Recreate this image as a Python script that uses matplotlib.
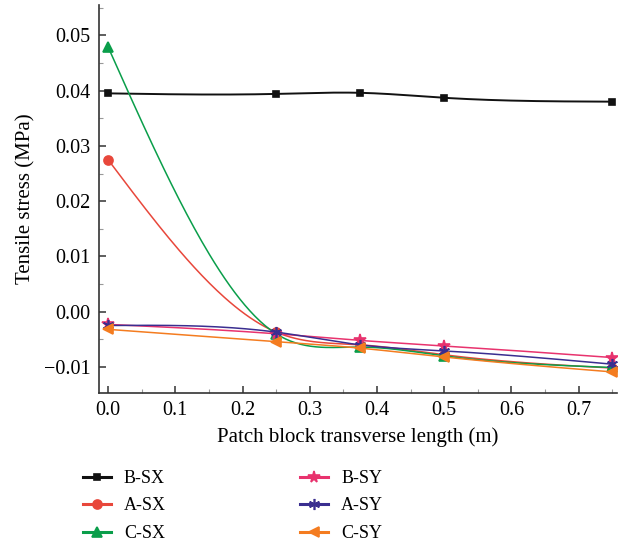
import numpy as np
import matplotlib
matplotlib.use("Agg")
import matplotlib.pyplot as plt
from matplotlib.ticker import MultipleLocator

plt.rcParams['font.family'] = ['Liberation Serif', 'DejaVu Serif']

x = [0.0, 0.25, 0.375, 0.5, 0.75]
b_sx = [0.0395, 0.0394, 0.0396, 0.0387, 0.0380]
a_sx = [0.0275, -0.0037, -0.0060, -0.0078, -0.0102]
c_sx = [0.0479, -0.0040, -0.0064, -0.0080, -0.0101]
b_sy = [-0.0023, -0.0040, -0.0052, -0.0062, -0.0083]
a_sy = [-0.0025, -0.0037, -0.0060, -0.0071, -0.0095]
c_sy = [-0.0032, -0.0054, -0.0066, -0.0082, -0.0109]


def spline(xs, ys, n=200):
    # natural cubic spline, only used to draw the smooth line between points
    xs = np.asarray(xs, float)
    ys = np.asarray(ys, float)
    k = len(xs)
    h = np.diff(xs)
    A = np.zeros((k, k))
    r = np.zeros(k)
    A[0, 0] = A[-1, -1] = 1
    for i in range(1, k - 1):
        A[i, i - 1] = h[i - 1]
        A[i, i] = 2 * (h[i - 1] + h[i])
        A[i, i + 1] = h[i]
        r[i] = 3 * ((ys[i + 1] - ys[i]) / h[i] - (ys[i] - ys[i - 1]) / h[i - 1])
    c = np.linalg.solve(A, r)
    xx = np.linspace(xs[0], xs[-1], n)
    idx = np.clip(np.searchsorted(xs, xx) - 1, 0, k - 2)
    dx = xx - xs[idx]
    b = (ys[1:] - ys[:-1]) / h - h * (2 * c[:-1] + c[1:]) / 3
    d = (c[1:] - c[:-1]) / (3 * h)
    yy = ys[idx] + b[idx] * dx + c[idx] * dx ** 2 + d[idx] * dx ** 3
    return xx, yy


series = [
    ("B-SX", b_sx, "#111111", "s", 5),
    ("A-SX", a_sx, "#e8473b", "o", 6.5),
    ("C-SX", c_sx, "#0a9e4a", "^", 7),
    ("B-SY", b_sy, "#e8336e", "*", 8.5),
    ("A-SY", a_sy, "#3a2e90", (6, 2, 0), 8),
    ("C-SY", c_sy, "#f47c20", "<", 6.5),
]

fig = plt.figure(figsize=(6.27, 5.48), dpi=100)
ax = fig.add_axes([0.158, 0.283, 0.826, 0.708])

handles = []
for name, ys, col, mk, ms in series:
    xx, yy = spline(x, ys)
    ax.plot(xx, yy, color=col, lw=1.1 if name != "B-SX" else 1.4)
    ax.plot(x, ys, ls='none', marker=mk, color=col, ms=ms, mew=1.2)
    h, = ax.plot([], [], color=col, lw=2.2, marker=mk, ms=ms, mew=1.2, label=name)
    handles.append(h)

ax.set_xlim(-0.0134, 0.757)
ax.set_ylim(-0.0147, 0.0555)
ax.xaxis.set_minor_locator(MultipleLocator(0.05))
ax.yaxis.set_minor_locator(MultipleLocator(0.005))
ax.set_xticks([0.0, 0.1, 0.2, 0.3, 0.4, 0.5, 0.6, 0.7])
ax.set_xticklabels(["0.0", "0.1", "0.2", "0.3", "0.4", "0.5", "0.6", "0.7"])
ax.set_yticks([-0.01, 0.0, 0.01, 0.02, 0.03, 0.04, 0.05])
ax.set_yticklabels(["\u22120.01", "0.00", "0.01", "0.02", "0.03", "0.04", "0.05"])

for s in ["top", "right"]:
    ax.spines[s].set_visible(False)
for s in ["left", "bottom"]:
    ax.spines[s].set_color("#333333")
    ax.spines[s].set_linewidth(1.2)
ax.tick_params(which='both', direction='in', labelsize=14.5, color="#333333", pad=6)
ax.tick_params(which='major', length=5, width=1.1)
ax.tick_params(which='minor', length=3, width=0.8, color="#999999")

ax.set_xlabel("Patch block transverse length (m)", fontsize=15, labelpad=5)
ax.set_ylabel("Tensile stress (MPa)", fontsize=15, labelpad=6)

fig.legend(handles, [s[0] for s in series],
           ncol=2, loc='upper left', bbox_to_anchor=(0.107, 0.172),
           frameon=False, fontsize=13, handlelength=1.55,
           columnspacing=7.45, labelspacing=0.58, handletextpad=0.7)

fig.savefig("out.png", dpi=100)
